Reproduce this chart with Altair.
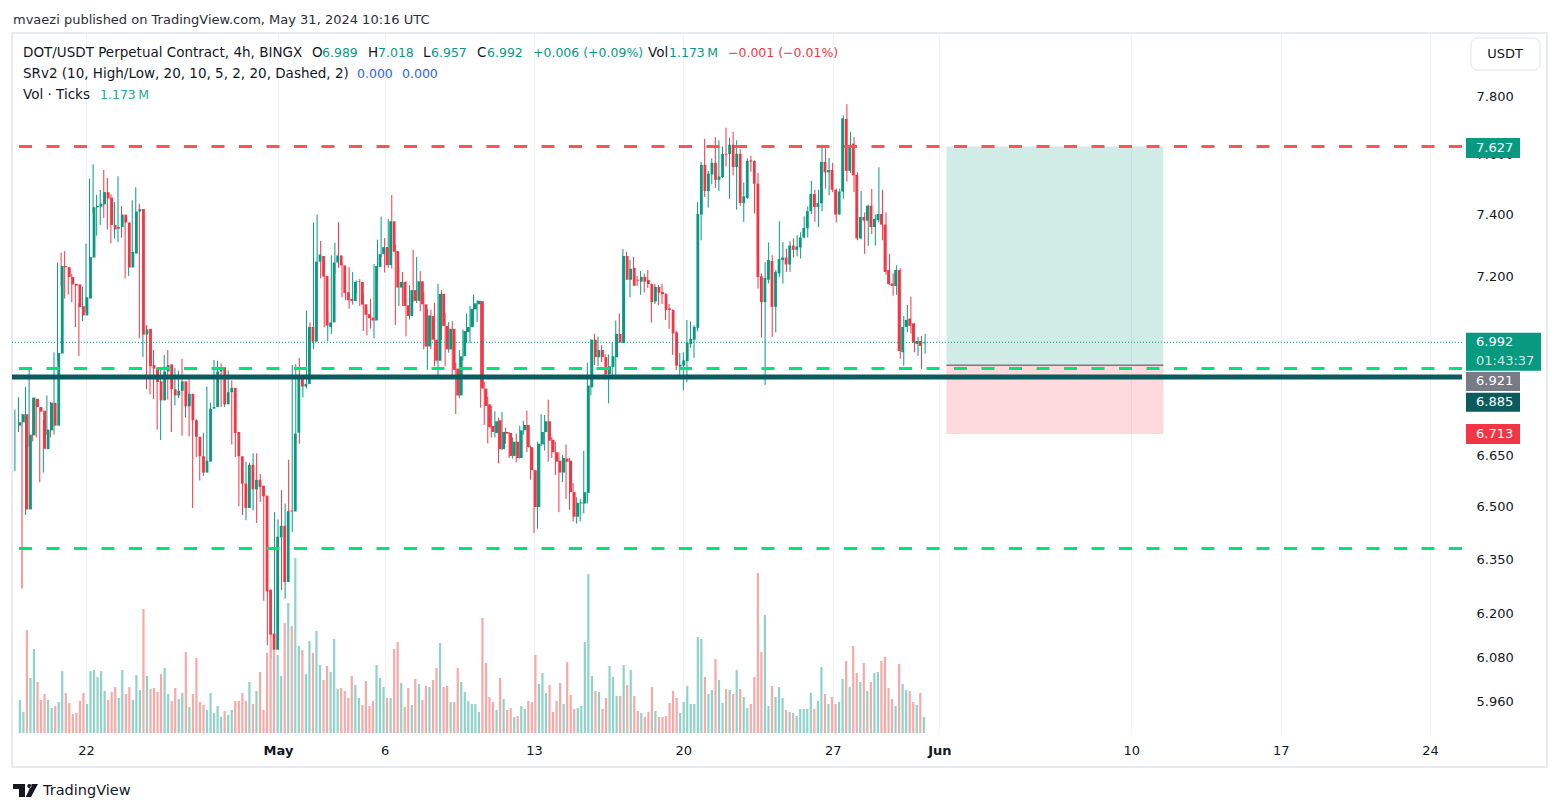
import altair as alt
import pandas as pd

# ---------------- data (DOT/USDT 4h, BINGX) ----------------
opens = [
    6.738, 6.748, 6.772, 6.492, 6.709, 6.819, 6.794, 6.783, 6.668, 6.724,
    6.807, 6.738, 6.957, 7.233, 7.229, 7.198, 7.176, 7.174, 7.105, 7.076,
    7.129, 7.260, 7.424, 7.426, 7.434, 7.474, 7.456, 7.366, 7.354, 7.359,
    7.400, 7.374, 7.228, 7.273, 7.410, 7.418, 7.016, 7.034, 6.922, 6.913,
    6.872, 6.814, 6.902, 6.924, 6.848, 6.829, 6.843, 6.872, 6.796, 6.834,
    6.754, 6.705, 6.647, 6.599, 6.631, 6.789, 6.794, 6.902, 6.915, 6.802,
    6.839, 6.852, 6.719, 6.647, 6.567, 6.496, 6.622, 6.550, 6.578, 6.561,
    6.532, 6.265, 6.144, 6.100, 6.412, 6.445, 6.286, 6.489, 6.486, 6.717,
    6.889, 6.856, 6.864, 7.040, 6.994, 7.247, 7.265, 7.201, 7.040, 7.054,
    7.244, 7.267, 7.235, 7.149, 7.128, 7.121, 7.182, 7.182, 7.111, 7.080,
    7.069, 7.060, 7.230, 7.271, 7.294, 7.236, 7.378, 7.281, 7.164, 7.182,
    7.108, 7.074, 7.156, 7.122, 7.184, 7.111, 6.979, 7.074, 7.000, 6.935,
    7.144, 7.043, 6.970, 7.034, 6.911, 6.829, 6.949, 7.024, 7.039, 7.095,
    7.111, 7.121, 6.850, 6.802, 6.737, 6.716, 6.754, 6.668, 6.719, 6.716,
    6.648, 6.690, 6.642, 6.724, 6.740, 6.674, 6.606, 6.499, 6.682, 6.719,
    6.751, 6.696, 6.659, 6.634, 6.599, 6.640, 6.634, 6.542, 6.471, 6.509,
    6.509, 6.540, 6.854, 7.000, 6.946, 6.968, 6.946, 6.894, 6.916, 6.946,
    7.018, 6.990, 7.265, 7.189, 7.227, 7.189, 7.183, 7.198, 7.188, 7.175,
    7.120, 7.166, 7.150, 7.144, 7.098, 7.093, 7.023, 6.917, 6.920, 6.934,
    6.987, 7.000, 7.037, 7.400, 7.565, 7.478, 7.533, 7.572, 7.515, 7.524,
    7.602, 7.602, 7.633, 7.558, 7.602, 7.438, 7.455, 7.580, 7.578, 7.502,
    7.200, 7.118, 7.189, 7.249, 7.103, 7.209, 7.252, 7.260, 7.238, 7.299,
    7.285, 7.293, 7.325, 7.355, 7.411, 7.468, 7.425, 7.437, 7.575, 7.540,
    7.548, 7.482, 7.400, 7.476, 7.721, 7.545, 7.637, 7.532, 7.322, 7.392,
    7.380, 7.429, 7.359, 7.382, 7.402, 7.367, 7.220, 7.177, 7.169, 7.220,
    6.961, 7.040, 7.066, 7.051, 6.987, 6.996, 6.989,
]
highs = [
    6.786, 6.823, 6.774, 6.854, 6.908, 6.821, 6.816, 6.792, 6.755, 6.829,
    6.809, 6.961, 7.244, 7.276, 7.281, 7.229, 7.207, 7.176, 7.115, 7.167,
    7.305, 7.519, 7.567, 7.465, 7.481, 7.548, 7.521, 7.467, 7.441, 7.527,
    7.428, 7.389, 7.301, 7.447, 7.490, 7.436, 7.116, 7.046, 6.990, 6.968,
    6.913, 6.913, 6.953, 6.968, 6.883, 6.913, 6.905, 6.941, 6.859, 6.888,
    6.780, 6.758, 6.649, 6.717, 6.856, 6.807, 6.937, 6.935, 6.927, 6.877,
    6.905, 6.875, 6.816, 6.719, 6.573, 6.631, 6.627, 6.656, 6.656, 6.595,
    6.553, 6.291, 6.168, 6.484, 6.463, 6.548, 6.509, 6.637, 6.922, 6.924,
    6.944, 6.886, 7.091, 7.054, 7.374, 7.400, 7.314, 7.250, 7.088, 7.267,
    7.308, 7.375, 7.244, 7.195, 7.229, 7.214, 7.187, 7.191, 7.142, 7.094,
    7.128, 7.239, 7.318, 7.393, 7.323, 7.386, 7.464, 7.302, 7.229, 7.214,
    7.184, 7.172, 7.285, 7.262, 7.216, 7.149, 7.097, 7.094, 7.116, 7.176,
    7.156, 7.083, 7.055, 7.058, 6.929, 6.968, 7.032, 7.082, 7.106, 7.142,
    7.124, 7.122, 6.870, 6.825, 6.797, 6.781, 6.762, 6.779, 6.732, 6.719,
    6.703, 6.714, 6.738, 6.753, 6.783, 6.679, 6.608, 6.690, 6.772, 6.770,
    6.816, 6.703, 6.690, 6.659, 6.650, 6.682, 6.642, 6.569, 6.527, 6.522,
    6.663, 6.929, 7.002, 7.018, 7.010, 6.983, 6.955, 6.954, 6.992, 7.060,
    7.082, 7.288, 7.279, 7.252, 7.262, 7.201, 7.217, 7.209, 7.220, 7.177,
    7.175, 7.172, 7.175, 7.146, 7.112, 7.095, 7.028, 6.959, 6.961, 7.062,
    7.057, 7.045, 7.441, 7.575, 7.653, 7.545, 7.587, 7.659, 7.648, 7.627,
    7.691, 7.657, 7.677, 7.648, 7.618, 7.506, 7.587, 7.596, 7.580, 7.538,
    7.209, 7.245, 7.309, 7.268, 7.220, 7.378, 7.310, 7.289, 7.313, 7.322,
    7.332, 7.342, 7.394, 7.427, 7.512, 7.482, 7.482, 7.633, 7.621, 7.588,
    7.572, 7.486, 7.486, 7.733, 7.772, 7.677, 7.659, 7.540, 7.478, 7.407,
    7.433, 7.485, 7.400, 7.557, 7.482, 7.407, 7.272, 7.209, 7.235, 7.226,
    7.074, 7.109, 7.135, 7.053, 7.009, 7.012, 7.018,
]
lows = [
    6.603, 6.719, 6.268, 6.476, 6.674, 6.691, 6.703, 6.571, 6.599, 6.711,
    6.703, 6.711, 6.935, 7.167, 7.129, 7.142, 7.117, 7.039, 6.950, 7.058,
    7.086, 7.250, 7.403, 7.331, 7.366, 7.389, 7.351, 7.306, 7.322, 7.310,
    7.324, 7.193, 7.201, 7.271, 7.403, 7.004, 6.946, 6.848, 6.832, 6.818,
    6.726, 6.695, 6.862, 6.816, 6.719, 6.799, 6.821, 6.708, 6.762, 6.706,
    6.496, 6.645, 6.576, 6.589, 6.617, 6.724, 6.792, 6.870, 6.794, 6.794,
    6.823, 6.682, 6.645, 6.501, 6.476, 6.461, 6.519, 6.489, 6.453, 6.514,
    6.234, 6.112, 6.075, 6.085, 6.329, 6.264, 6.240, 6.479, 6.427, 6.687,
    6.684, 6.823, 6.850, 6.883, 6.971, 7.239, 7.193, 7.039, 6.996, 7.018,
    7.208, 7.227, 7.134, 7.124, 7.097, 7.110, 7.147, 7.106, 7.027, 7.013,
    7.035, 7.004, 7.185, 7.262, 7.212, 7.227, 7.225, 7.046, 7.106, 7.105,
    7.010, 7.063, 7.119, 7.115, 7.089, 6.970, 6.907, 6.971, 6.918, 6.886,
    7.000, 6.918, 6.960, 6.889, 6.773, 6.821, 6.935, 6.990, 6.990, 7.041,
    7.055, 6.792, 6.740, 6.685, 6.703, 6.703, 6.626, 6.666, 6.684, 6.642,
    6.640, 6.629, 6.640, 6.711, 6.659, 6.578, 6.424, 6.437, 6.677, 6.664,
    6.631, 6.642, 6.592, 6.484, 6.571, 6.522, 6.491, 6.458, 6.451, 6.458,
    6.481, 6.509, 6.829, 6.922, 6.918, 6.931, 6.877, 6.805, 6.880, 6.883,
    6.990, 6.990, 7.189, 7.133, 7.170, 7.169, 7.141, 7.148, 7.163, 7.054,
    7.112, 7.109, 7.112, 7.062, 7.034, 6.953, 6.906, 6.879, 6.844, 6.869,
    6.975, 6.944, 7.026, 7.316, 7.458, 7.423, 7.500, 7.488, 7.478, 7.521,
    7.560, 7.452, 7.530, 7.416, 7.429, 7.376, 7.452, 7.542, 7.404, 7.161,
    7.007, 6.861, 7.177, 7.009, 7.023, 7.198, 7.177, 7.214, 7.214, 7.260,
    7.264, 7.257, 7.322, 7.325, 7.402, 7.376, 7.359, 7.411, 7.486, 7.464,
    7.474, 7.374, 7.400, 7.452, 7.509, 7.538, 7.474, 7.316, 7.319, 7.272,
    7.298, 7.336, 7.299, 7.374, 7.316, 7.205, 7.172, 7.138, 7.141, 6.941,
    6.920, 7.023, 7.020, 6.961, 6.950, 6.910, 6.957,
]
closes = [
    6.748, 6.772, 6.492, 6.711, 6.823, 6.794, 6.780, 6.669, 6.726, 6.807,
    6.738, 6.959, 7.233, 7.229, 7.198, 7.174, 7.170, 7.102, 7.076, 7.133,
    7.262, 7.424, 7.429, 7.436, 7.474, 7.453, 7.366, 7.351, 7.359, 7.400,
    7.374, 7.228, 7.278, 7.410, 7.418, 7.016, 7.032, 6.918, 6.911, 6.870,
    6.814, 6.902, 6.922, 6.848, 6.829, 6.843, 6.872, 6.796, 6.834, 6.754,
    6.705, 6.647, 6.599, 6.634, 6.789, 6.794, 6.902, 6.915, 6.802, 6.839,
    6.852, 6.716, 6.647, 6.567, 6.496, 6.622, 6.550, 6.578, 6.557, 6.530,
    6.260, 6.141, 6.100, 6.414, 6.445, 6.286, 6.487, 6.486, 6.714, 6.889,
    6.856, 6.864, 7.040, 6.994, 7.247, 7.270, 7.199, 7.044, 7.054, 7.244,
    7.267, 7.235, 7.147, 7.124, 7.121, 7.182, 7.184, 7.110, 7.078, 7.067,
    7.060, 7.233, 7.271, 7.294, 7.236, 7.378, 7.279, 7.164, 7.182, 7.106,
    7.074, 7.156, 7.122, 7.184, 7.111, 6.979, 7.076, 7.000, 6.935, 7.144,
    7.043, 6.970, 7.034, 6.907, 6.829, 6.949, 7.027, 7.040, 7.097, 7.114,
    7.122, 6.850, 6.797, 6.733, 6.719, 6.751, 6.668, 6.719, 6.714, 6.648,
    6.690, 6.642, 6.724, 6.740, 6.674, 6.606, 6.499, 6.684, 6.719, 6.751,
    6.693, 6.659, 6.631, 6.599, 6.642, 6.631, 6.542, 6.471, 6.511, 6.512,
    6.542, 6.859, 7.000, 6.946, 6.968, 6.946, 6.894, 6.918, 6.949, 7.018,
    6.992, 7.265, 7.189, 7.224, 7.170, 7.186, 7.198, 7.183, 7.175, 7.118,
    7.166, 7.148, 7.143, 7.093, 7.093, 7.020, 6.920, 6.923, 6.936, 6.991,
    7.003, 7.040, 7.402, 7.565, 7.478, 7.536, 7.572, 7.515, 7.526, 7.602,
    7.599, 7.633, 7.558, 7.602, 7.438, 7.460, 7.578, 7.576, 7.502, 7.198,
    7.118, 7.195, 7.252, 7.103, 7.214, 7.255, 7.260, 7.238, 7.299, 7.285,
    7.296, 7.325, 7.356, 7.411, 7.468, 7.425, 7.438, 7.575, 7.540, 7.548,
    7.482, 7.400, 7.476, 7.723, 7.545, 7.633, 7.530, 7.322, 7.392, 7.380,
    7.429, 7.359, 7.386, 7.402, 7.367, 7.214, 7.175, 7.169, 7.220, 6.965,
    7.040, 7.062, 7.043, 6.991, 6.996, 6.981, 6.992,
]
volumes_m = [
    2.42, 1.54, 7.55, 4.03, 6.16, 3.74, 2.42, 2.86, 2.42, 1.83,
    1.98, 2.27, 4.54, 2.93, 2.20, 1.39, 1.47, 2.35, 2.93, 2.13,
    4.54, 4.62, 4.10, 4.54, 3.08, 2.42, 3.01, 3.37, 2.57, 4.62,
    2.86, 3.37, 2.42, 4.25, 3.15, 9.09, 4.18, 3.23, 3.30, 3.01,
    4.32, 4.76, 2.86, 2.35, 3.30, 2.49, 2.93, 5.94, 1.91, 2.86,
    5.50, 2.27, 2.05, 1.69, 2.93, 1.47, 1.98, 1.17, 1.61, 1.32,
    1.69, 2.35, 2.35, 2.93, 2.35, 3.74, 2.13, 3.08, 4.47, 1.69,
    5.86, 7.18, 6.23, 5.72, 4.18, 8.06, 9.53, 7.84, 12.83, 6.38,
    6.08, 4.32, 6.74, 5.86, 7.48, 4.98, 3.88, 4.91, 4.47, 6.89,
    3.23, 3.30, 3.08, 2.57, 4.18, 3.52, 2.57, 2.05, 3.81, 1.98,
    2.35, 4.98, 4.03, 3.37, 2.57, 2.57, 6.16, 6.67, 3.67, 1.91,
    3.30, 2.05, 3.96, 3.59, 2.42, 3.45, 3.37, 3.88, 4.76, 6.60,
    3.37, 3.45, 2.27, 2.27, 4.76, 3.74, 3.01, 2.35, 2.13, 2.13,
    1.54, 8.43, 5.13, 2.64, 2.27, 1.69, 4.03, 2.49, 1.69, 1.83,
    1.17, 1.25, 1.98, 1.76, 2.35, 2.27, 5.72, 3.59, 4.40, 2.93,
    3.52, 1.54, 2.35, 3.67, 2.13, 5.20, 2.79, 1.76, 1.83, 1.98,
    6.67, 11.65, 4.18, 3.08, 3.01, 1.76, 2.57, 4.91, 4.10, 2.71,
    2.71, 4.98, 3.52, 4.62, 2.71, 1.61, 1.47, 1.17, 1.54, 3.37,
    1.61, 1.17, 1.17, 1.25, 2.20, 3.08, 2.57, 1.47, 2.27, 3.45,
    2.13, 2.13, 7.04, 6.89, 4.10, 2.86, 3.15, 5.42, 3.88, 2.20,
    3.23, 3.15, 2.86, 4.62, 3.23, 2.64, 1.83, 2.13, 4.10, 11.73,
    5.94, 8.65, 1.98, 3.45, 2.64, 3.37, 2.57, 1.69, 1.54, 1.47,
    1.25, 1.76, 1.76, 1.76, 2.93, 1.76, 2.35, 4.84, 2.86, 2.13,
    2.64, 2.13, 2.27, 3.96, 5.28, 3.37, 6.38, 4.40, 3.74, 5.13,
    3.08, 3.74, 4.40, 4.47, 5.28, 5.57, 3.30, 2.49, 1.98, 5.06,
    3.59, 3.15, 3.08, 2.27, 2.05, 2.93, 1.173,
]
first_bar = "2024-04-18 16:00"          # 4h bars, last bar = 2024-05-31 08:00 UTC

# horizontal levels
sr_resistance = 7.627
sr_support = 6.911
sr_support_low = 6.380
user_line = 6.885
last_price = 6.992
# long-position tool
pos_entry = 6.921
pos_target = 7.627
pos_stop = 6.713
pos_start = "2024-06-01T08:00:00Z"
pos_end = "2024-06-11T12:00:00Z"

y_ticks = [5.96, 6.08, 6.2, 6.35, 6.5, 6.65, 7.2, 7.4, 7.6, 7.8]
x_ticks = [(4, 22), (5, 1), (5, 6), (5, 13), (5, 20), (5, 27), (6, 1), (6, 10), (6, 17), (6, 24)]

# ---------------- build ----------------
times = pd.date_range(first_bar, periods=len(opens), freq="4h", tz="UTC")
df = pd.DataFrame({
    "t": times.strftime("%Y-%m-%dT%H:%M:%SZ"),
    "open": opens, "high": highs, "low": lows, "close": closes, "vol": volumes_m,
})
df["dir"] = ["up" if c >= o else "down" for o, c in zip(opens, closes)]

FONT = "DejaVu Sans"
UP, DOWN = "#089981", "#F23645"
DARK = "#131722"
W, H = 1450, 699

xscale = alt.Scale(type="utc", domain=[
    alt.DateTime(year=2024, month=4, date=18, hours=12, minutes=45, utc=True),
    alt.DateTime(year=2024, month=6, date=25, hours=12, utc=True)])
yscale = alt.Scale(type="log", domain=[5.8785, 8.0177], nice=False, zero=False)

xaxis = alt.Axis(
    values=[alt.DateTime(year=2024, month=m, date=d, utc=True) for m, d in x_ticks],
    labelExpr="utcdate(datum.value) == 1 ? utcFormat(datum.value, '%b') : utcFormat(datum.value, '%-d')",
    labelFontWeight={"condition": {"test": "utcdate(datum.value) == 1", "value": "bold"}, "value": "normal"},
    grid=True, gridColor="#F0F3FA", gridWidth=1, domain=False, ticks=False,
    labelPadding=11, labelFontSize=13, labelColor=DARK, labelFont=FONT, title=None,
    labelOverlap=False)
yaxis = alt.Axis(
    orient="right", values=y_ticks, format=".3f", grid=False, domain=False, ticks=False,
    labelPadding=14, labelFontSize=13, labelColor=DARK, labelFont=FONT, title=None,
    labelAlign="left", labelOverlap=False)

base = alt.Chart(df)
is_up = alt.datum.dir == "up"

vol_layer = base.mark_bar(size=2.2).encode(
    x=alt.X("t:T", scale=xscale, axis=None),
    y=alt.Y("vol:Q", scale=alt.Scale(domain=[0, 51.24], nice=False, zero=True), axis=None),
    color=alt.condition(is_up, alt.value("#8fd3c8"), alt.value("#f7a9a7")),
)

wicks = base.mark_rule(strokeWidth=1).encode(
    x=alt.X("t:T", scale=xscale, axis=xaxis),
    y=alt.Y("low:Q", scale=yscale, axis=yaxis),
    y2="high:Q",
    color=alt.condition(is_up, alt.value(UP), alt.value(DOWN)),
)
bodies = base.mark_bar(size=2.8).encode(
    x=alt.X("t:T", scale=xscale, axis=None),
    y=alt.Y("open:Q", scale=yscale, axis=None),
    y2="close:Q",
    color=alt.condition(is_up, alt.value(UP), alt.value(DOWN)),
)

one = pd.DataFrame({"k": [0]})


def hline(price, color, width, dash=None):
    kw = dict(color=color, strokeWidth=width)
    if dash:
        kw["strokeDash"] = dash
    return alt.Chart(pd.DataFrame({"p": [price]})).mark_rule(**kw).encode(
        y=alt.Y("p:Q", scale=yscale, axis=None))


pos_df = pd.DataFrame({
    "t1": [pos_start, pos_start], "t2": [pos_end, pos_end],
    "top": [pos_target, pos_entry], "bot": [pos_entry, pos_stop], "kind": ["target", "stop"]})
pos_rects = alt.Chart(pos_df).mark_rect(opacity=0.19).encode(
    x=alt.X("t1:T", scale=xscale, axis=None), x2="t2:T",
    y=alt.Y("top:Q", scale=yscale, axis=None), y2="bot:Q",
    color=alt.condition(alt.datum.kind == "target", alt.value(UP), alt.value(DOWN)),
)
pos_entry_line = alt.Chart(pd.DataFrame({"t1": [pos_start], "t2": [pos_end], "p": [pos_entry]})).mark_rule(
    color="#787B86", strokeWidth=1.5).encode(
    x=alt.X("t1:T", scale=xscale, axis=None), x2="t2:T",
    y=alt.Y("p:Q", scale=yscale, axis=None))


def tag(price, text, bg, dy=0.0, h=20, x2=1508, sub=None):
    d = pd.DataFrame({"p": [price]})
    layers = [
        alt.Chart(d).mark_rule(strokeWidth=h, color=bg, strokeCap="butt", yOffset=dy).encode(
            x=alt.value(1454), x2=alt.value(x2), y=alt.Y("p:Q", scale=yscale, axis=None)),
        alt.Chart(d).mark_text(text=text, align="left", baseline="middle", color="white",
                               fontSize=13, font=FONT, yOffset=(dy if sub is None else 0)).encode(
            x=alt.value(1464), y=alt.Y("p:Q", scale=yscale, axis=None)),
    ]
    if sub is not None:
        layers.append(alt.Chart(d).mark_text(text=sub, align="left", baseline="middle",
                                             color="#cdebe4", fontSize=13, font=FONT,
                                             yOffset=19).encode(
            x=alt.value(1464), y=alt.Y("p:Q", scale=yscale, axis=None)))
    return layers


def txt(s, x, y, color=DARK, size=13.5, weight="normal", align="left"):
    return alt.Chart(one).mark_text(text=s, align=align, baseline="middle", color=color,
                                    fontSize=size, fontWeight=weight, font=FONT).encode(
        x=alt.value(x), y=alt.value(y))


NUM = 12.5
o, h_, l_, c_ = opens[-1], highs[-1], lows[-1], closes[-1]
legend = [
    txt("mvaezi published on TradingView.com, May 31, 2024 10:16 UTC", 1, -14, "#2a2e39", 13),
    txt("DOT/USDT Perpetual Contract, 4h, BINGX", 11, 19),
    txt("O", 300, 19), txt(f"{o:.3f}", 310, 19, UP, NUM),
    txt("H", 356, 19), txt(f"{h_:.3f}", 366, 19, UP, NUM),
    txt("L", 411, 19), txt(f"{l_:.3f}", 419, 19, UP, NUM),
    txt("C", 465, 19), txt(f"{c_:.3f}", 475, 19, UP, NUM),
    txt("+0.006 (+0.09%)", 521, 19, UP, NUM),
    txt("Vol", 636, 19), txt("1.173\u2009M", 657, 19, UP, NUM),
    txt("\u22120.001 (\u22120.01%)", 716, 19, DOWN, NUM),
    txt("SRv2 (10, High/Low, 20, 10, 5, 2, 20, Dashed, 2)", 11, 40),
    txt("0.000", 345, 40, "#2962FF", NUM), txt("0.000", 390, 40, "#2962FF", NUM),
    txt("Vol \u00b7 Ticks", 11, 61), txt("1.173\u2009M", 88, 61, "#22AB94", NUM),
    txt("TradingView", 31, 757, DARK, 14.5),
    txt("USDT", 1493, 20, DARK, 13, align="center"),
]

# TradingView logo drawn as one filled symbol
logo_path = ("M-1,-0.52H-0.04V0.52H-0.52V-0.12H-1Z "
             "M0.14,-0.36A0.17,0.17 0 1,0 0.48,-0.36A0.17,0.17 0 1,0 0.14,-0.36Z "
             "M0.5,-0.52H1L0.44,0.52H0.02Z")
logo = alt.Chart(one).mark_point(shape=logo_path, filled=True, size=625, color=DARK, opacity=1).encode(
    x=alt.value(13.5), y=alt.value(756.5))

frame = alt.Chart(one).mark_rect(fillOpacity=0, stroke="#E0E3EB", strokeWidth=1.5).encode(
    x=alt.value(0), x2=alt.value(1535), y=alt.value(-1), y2=alt.value(733))
usdt_box = alt.Chart(one).mark_rect(fill="white", stroke="#E0E3EB", strokeWidth=1, cornerRadius=6).encode(
    x=alt.value(1459), x2=alt.value(1528), y=alt.value(4), y2=alt.value(36))

chart = alt.layer(
    frame,
    wicks,
    vol_layer,
    pos_rects, pos_entry_line,
    bodies,
    hline(last_price, UP, 1, [1, 2]),
    hline(sr_resistance, "#FF5252", 3, [13, 14.5]),
    hline(sr_support, "#00E676", 3, [13, 14.5]),
    hline(sr_support_low, "#00E676", 3, [13, 14.5]),
    hline(user_line, "#0b5b5e", 5),
    *tag(pos_target, f"{pos_target:.3f}", UP, dy=1.5),
    *tag(last_price, f"{last_price:.3f}", UP, dy=9.5, h=38, x2=1529, sub="01:43:37"),
    *tag(pos_entry, f"{pos_entry:.3f}", "#787B86", dy=16.2, h=19),
    *tag(user_line, f"{user_line:.3f}", "#0b5b5e", dy=25.3, h=19),
    *tag(pos_stop, f"{pos_stop:.3f}", DOWN, dy=0),
    usdt_box,
    logo,
    *legend,
).resolve_scale(x="independent", y="independent").properties(
    width=W, height=H,
    padding={"left": 4, "top": 26, "right": 86, "bottom": 67},
    autosize=alt.AutoSizeParams(type="none"),
    background="white",
).configure_view(strokeWidth=0)

chart.save("out.html", embed_options={"renderer": "svg", "actions": False})
